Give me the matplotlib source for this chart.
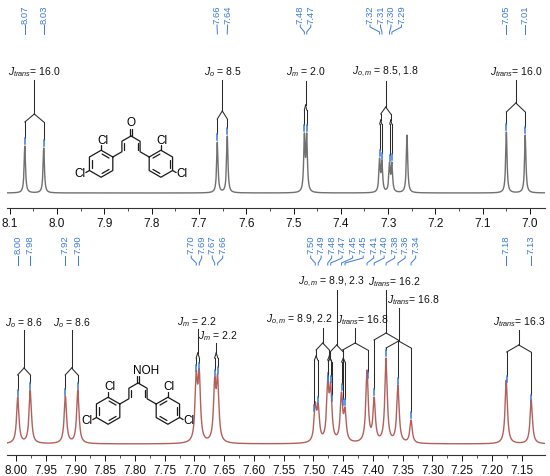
import numpy as np
import matplotlib
matplotlib.use('Agg')
import matplotlib.pyplot as plt

plt.rcParams['font.family'] = ['Liberation Sans', 'DejaVu Sans']
plt.rcParams['mathtext.fontset'] = 'custom'
plt.rcParams['mathtext.rm'] = 'Liberation Sans'
plt.rcParams['mathtext.it'] = 'Liberation Sans:italic'
plt.rcParams['mathtext.bf'] = 'Liberation Sans:bold'

MHZ = 400.0  # spectrometer frequency
W, H = 550, 476

# ---- top spectrum: dienone ----
top_peaks = [8.068, 8.028, 7.661, 7.640, 7.477, 7.472, 7.318, 7.313, 7.297, 7.292, 7.050, 7.010]
top_heights = [47, 45, 51, 57, 60, 60, 35, 33, 31, 31, 61, 58]
top_solvent = [7.260]
top_solvent_heights = [58]
top_ticks = [8.1, 8.0, 7.9, 7.8, 7.7, 7.6, 7.5, 7.4, 7.3, 7.2, 7.1, 7.0]
top_centers = [8.048, 7.6505, 7.4745, 7.305, 7.030]
top_J = [[16.0], [8.5], [2.0], [8.5, 1.8], [16.0]]
top_J_text = [r'$J_{trans}$= 16.0', r'$J_o$ = 8.5', r'$J_m$ = 2.0',
              r'$J_{o,m}$ = 8.5, 1.8', r'$J_{trans}$= 16.0']

# ---- bottom spectrum: oxime ----
bot_peaks = [7.997, 7.976, 7.917, 7.896, 7.697, 7.692, 7.666, 7.661,
             7.497, 7.492, 7.476, 7.471, 7.453, 7.447, 7.410, 7.398,
             7.378, 7.358, 7.336, 7.176, 7.134]
bot_heights = [47, 54, 48, 54, 73, 75, 67, 70,
               42, 41, 64, 62, 52, 37, 74, 47,
               86, 59, 24, 64, 44]
bot_ticks = [8.00, 7.95, 7.90, 7.85, 7.80, 7.75, 7.70, 7.65, 7.60,
             7.55, 7.50, 7.45, 7.40, 7.35, 7.30, 7.25, 7.20, 7.15]
bot_centers = [7.9865, 7.9065, 7.6945, 7.6635, 7.4845, 7.461, 7.430, 7.378, 7.357, 7.155]
bot_J = [[8.6], [8.6], [2.2], [2.2], [8.9, 2.2], [8.9, 2.3], [16.8], [16.2], [16.8], [16.3]]
bot_J_text = [r'$J_o$ = 8.6', r'$J_o$ = 8.6', r'$J_m$ = 2.2', r'$J_m$ = 2.2',
              r'$J_{o,m}$ = 8.9, 2.2', r'$J_{o,m}$ = 8.9, 2.3', r'$J_{trans}$= 16.8',
              r'$J_{trans}$= 16.2', r'$J_{trans}$= 16.8', r'$J_{trans}$= 16.3']

# tree layout in image pixels: label dx, label y, stem top, junction, drops, vertical step
top_tree_layout = [(0, 72, 80, 114, [8], 0),
                   (0, 72, 80, 111, [8], 0),
                   (0, 72, 81, 105, [5], 0),
                   (0, 72, 81, 107, [7, 4], 6),
                   (0, 72, 80, 103, [9], 0)]
bot_tree_layout = [(0, 323, 330, 368, [7], 0),
                   (0, 323, 330, 368, [7], 0),
                   (-1, 322, 329, 353, [5], 0),
                   (1, 336, 343, 353, [5], 0),
                   (-23, 320, 328, 343, [7, 4], 6),
                   (-5, 282, 290, 345, [7, 4], 6),
                   (7, 320, 328, 343, [7], 0),
                   (8, 282, 290, 333, [7], 0),
                   (15, 300, 308, 341, [7], 0),
                   (0, 322, 330, 345, [7], 0)]

BLUE = '#3b7ad6'
INK = '#2a2a2a'


def lor(d, w):
    return 1.0 / (1.0 + (2.0 * d / w) ** 2)


def make_spectrum(pos, hts, w, base):
    pos = np.array(pos)
    M = lor(pos[:, None] - pos[None, :], w)
    amp = np.linalg.solve(M, np.array(hts, dtype=float))

    def f(x):
        x = np.atleast_1d(x)
        return base + (amp[None, :] * lor(x[:, None] - pos[None, :], w)).sum(axis=1)
    return f


def spread(xs, gap):
    # centre each crowded group of labels on the middle of its outer peaks
    def start(c):
        return (c[0] + c[-1]) / 2 - gap * (len(c) - 1) / 2
    clusters = []
    for x in xs:
        clusters.append([x])
        while len(clusters) > 1:
            a, b = clusters[-2], clusters[-1]
            if start(a) + gap * len(a) > start(b):
                clusters[-2:] = [a + b]
            else:
                break
    out = []
    for c in clusters:
        s = start(c)
        out += [s + gap * i for i in range(len(c))]
    return out


def panel(rect_top, spine_y, xlim, peaks, heights, extra, extra_h, width, base,
          color, ticks, fmt, minor, centers, Js, texts, layout, lab, gap):
    x0 = 7
    ax = fig.add_axes([x0 / W, (H - spine_y) / H, 538 / W, (spine_y - rect_top) / H])
    ax.set_facecolor('none')
    ax.set_xlim(*xlim)
    ax.set_ylim(0, spine_y - rect_top)
    scale = 538 / (xlim[0] - xlim[1])

    def yy(img):
        return spine_y - img

    spec = make_spectrum(peaks + extra, heights + extra_h, width, base)
    xs = np.linspace(xlim[1], xlim[0], 6000)
    ax.plot(xs, spec(xs), color=color, lw=1.0)

    # multiplet trees
    for c, J, t, (dx, ly, st, jn, drops, vseg) in zip(centers, Js, texts, layout):
        ax.text(c - dx / scale, yy(ly), t, ha='center', va='center', fontsize=7.5,
                color='#111111')
        ax.plot([c, c], [yy(st), yy(jn)], color=INK, lw=0.75)
        nodes = [c]
        y = yy(jn)
        for k, j in enumerate(J):
            d = j / MHZ / 2
            new = []
            for n in nodes:
                for ch in (n + d, n - d):
                    ax.plot([n, ch], [y, y - drops[k]], color=INK, lw=0.75)
                    new.append(ch)
            y -= drops[k]
            if k < len(J) - 1:
                for ch in new:
                    ax.plot([ch, ch], [y, y - vseg], color=INK, lw=0.75)
                y -= vseg
            nodes = new
        for ch in nodes:
            s = spec(ch)[0]
            ax.plot([ch, ch], [y, s + 8], color=INK, lw=0.75)
            ax.plot([ch, ch], [s + 8, s + 2], color=BLUE, lw=1.1)

    # peak pick labels
    tb, c1, c2, c3, c4 = lab
    px = [(xlim[0] - p) * scale for p in peaks]
    lx = spread(px, gap)
    for p, l in zip(peaks, lx):
        lp = xlim[0] - l / scale
        ax.text(lp, yy(tb), f'{p:.2f}', rotation=90, ha='center', va='bottom',
                fontsize=6.8, color=BLUE)
        ax.plot([lp, lp, p, p], [yy(c1), yy(c2), yy(c3), yy(c4)], color=BLUE, lw=0.7)

    for sp in ['top', 'left', 'right']:
        ax.spines[sp].set_visible(False)
    ax.spines['bottom'].set_color('#333333')
    ax.spines['bottom'].set_linewidth(0.8)
    ax.set_yticks([])
    ax.set_xticks(ticks)
    ax.set_xticklabels([fmt.format(t) for t in ticks])
    ax.set_xticks(np.arange(ticks[-1], ticks[0] + 1e-6, minor), minor=True)
    ax.tick_params(axis='x', which='major', direction='out', length=4, width=0.7,
                   pad=3, labelsize=8.5, colors='#111111')
    ax.tick_params(axis='x', which='minor', direction='out', length=2.5, width=0.6,
                   colors='#333333')
    return ax


def molecule(ax, cx, cy, head):
    L = 10.5
    r = 13.5
    kw = dict(color='#1a1a1a', lw=0.9, solid_capstyle='round')
    c30 = np.cos(np.pi / 6)
    ax.plot([cx - 1.3, cx - 1.3], [cy, cy - L + 3], **kw)
    ax.plot([cx + 1.3, cx + 1.3], [cy, cy - L + 3], **kw)
    if head == 'O':
        ax.text(cx, cy - L - 2, 'O', ha='center', va='center', fontsize=8.5)
    else:
        ax.text(cx - 4.5, cy - L - 2, 'NOH', ha='left', va='center', fontsize=8.5)
    for s in (-1, 1):
        a = (cx + s * c30 * L, cy + 0.5 * L)
        b = (a[0], a[1] + L)
        ip = (b[0] + s * c30 * L, b[1] + 0.5 * L)
        ax.plot([cx, a[0], b[0], ip[0]], [cy, a[1], b[1], ip[1]], **kw)
        ax.plot([a[0] - s * 2.4, b[0] - s * 2.4], [a[1] + 2, b[1] - 2], **kw)
        rc = (ip[0] + s * c30 * r, ip[1] + 0.5 * r)
        ang = np.radians(30 + 60 * np.arange(7))
        vx = rc[0] - s * r * np.cos(ang)
        vy = rc[1] - r * np.sin(ang)
        ax.plot(vx, vy, **kw)
        for k in (0, 2, 4):
            p1 = np.array([vx[k], vy[k]])
            p2 = np.array([vx[k + 1], vy[k + 1]])
            q1 = rc + 0.76 * (p1 - rc)
            q2 = rc + 0.76 * (p2 - rc)
            m = (q1 + q2) / 2
            q1 = m + 0.78 * (q1 - m)
            q2 = m + 0.78 * (q2 - m)
            ax.plot([q1[0], q2[0]], [q1[1], q2[1]], **kw)
        # ortho Cl
        ax.plot([vx[1], vx[1]], [vy[1], vy[1] - 0.5 * L], **kw)
        ax.text(vx[1] + 1.5, vy[1] - 0.5 * L - 4.5, 'Cl', ha='center', va='center',
                fontsize=8.5)
        # para Cl
        ex = vx[3] + s * c30 * 0.4 * L
        ey = vy[3] + 0.5 * 0.4 * L
        ax.plot([vx[3], ex], [vy[3], ey], **kw)
        ax.text(ex + s * 0.5, ey + 1, 'Cl', ha='right' if s < 0 else 'left',
                va='center', fontsize=8.5)


fig = plt.figure(figsize=(W / 100, H / 100), dpi=100)

panel(0, 208, (8.1057, 6.9683), top_peaks, top_heights, top_solvent, top_solvent_heights,
      0.0035, 15, '#707070', top_ticks, '{:.1f}', 0.05, top_centers, top_J, top_J_text,
      top_tree_layout, (24, 25, 27, 32, 34), 10.5)
panel(232, 455, (8.0151, 7.1109), bot_peaks, bot_heights, [], [],
      0.0048, 11, '#b35f5c', bot_ticks, '{:.2f}', 0.025, bot_centers, bot_J, bot_J_text,
      bot_tree_layout, (254, 256, 258, 263, 265), 10.5)

ov = fig.add_axes([0, 0, 1, 1])
ov.set_xlim(0, W)
ov.set_ylim(H, 0)
ov.axis('off')
ov.set_facecolor('none')
molecule(ov, 131, 136, 'O')
molecule(ov, 138, 383, 'NOH')

fig.savefig('out.png', dpi=100)
